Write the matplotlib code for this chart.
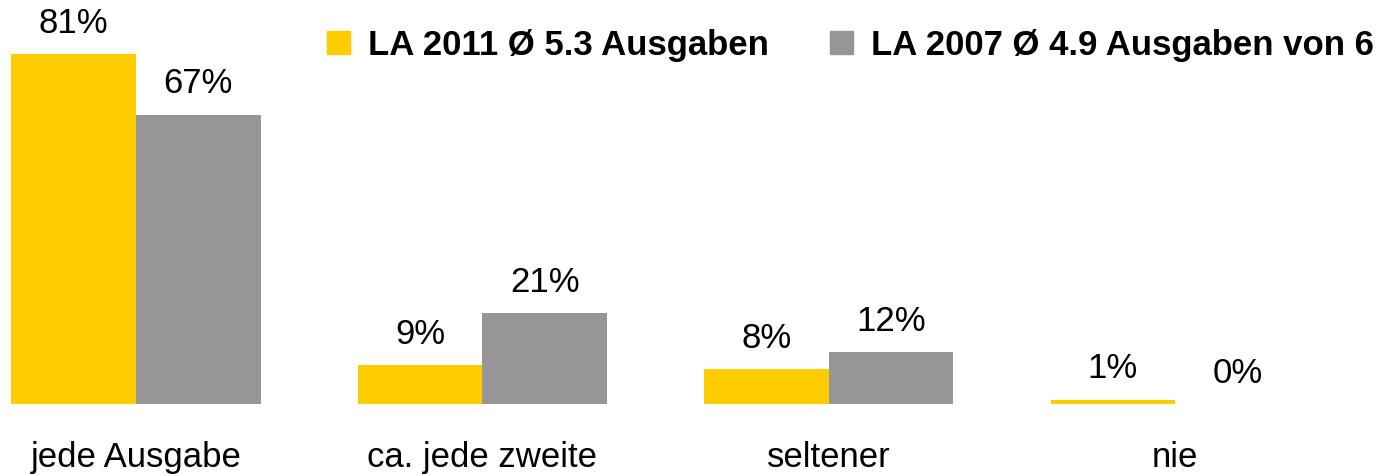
import matplotlib.pyplot as plt
from matplotlib.patches import Rectangle
import numpy as np

# data
categories = ['jede Ausgabe', 'ca. jede zweite', 'seltener', 'nie']
la2011 = [81, 9, 8, 1]
la2007 = [67, 21, 12, 0]
series_names = ['LA 2011 Ø 5.3 Ausgaben', 'LA 2007 Ø 4.9 Ausgaben von 6']

col_2011 = '#FFCC00'
col_2007 = '#969696'

plt.rcParams['font.family'] = ['Liberation Sans', 'DejaVu Sans']

fig = plt.figure(figsize=(13.79, 4.77), dpi=100)
ax = fig.add_axes([0.0, 72 / 477, 1.0, 405 / 477])

x = np.arange(len(categories))
width = 0.3595

bars1 = ax.bar(x - width / 2, la2011, width, color=col_2011)
bars2 = ax.bar(x + width / 2, la2007, width, color=col_2007)

# value labels above each bar
for bars in (bars1, bars2):
    for b in bars:
        ax.annotate('{:d}%'.format(int(b.get_height())),
                    xy=(b.get_x() + b.get_width() / 2, b.get_height()),
                    xytext=(0, 16), textcoords='offset points',
                    ha='center', va='baseline', fontsize=25, color='black')

ax.set_xlim(-0.3927, 3.589)
ax.set_ylim(0, 93.75)

ax.set_xticks(x)
ax.set_xticklabels(categories, fontsize=25)
ax.tick_params(axis='x', length=0, pad=26)
ax.set_yticks([])
for s in ax.spines.values():
    s.set_visible(False)

# legend at the top right
handles = [Rectangle((0, 0), 1, 1, color=col_2011), Rectangle((0, 0), 1, 1, color=col_2007)]
leg = fig.legend(handles, series_names, loc='center right', bbox_to_anchor=(1374 / 1379, 1 - 46 / 477),
                 ncol=2, frameon=False, prop={'size': 25, 'weight': 'bold'},
                 handlelength=0.66, handleheight=0.66, handletextpad=0.52, columnspacing=1.76,
                 borderaxespad=0, borderpad=0)

fig.savefig('out.png', dpi=100)
